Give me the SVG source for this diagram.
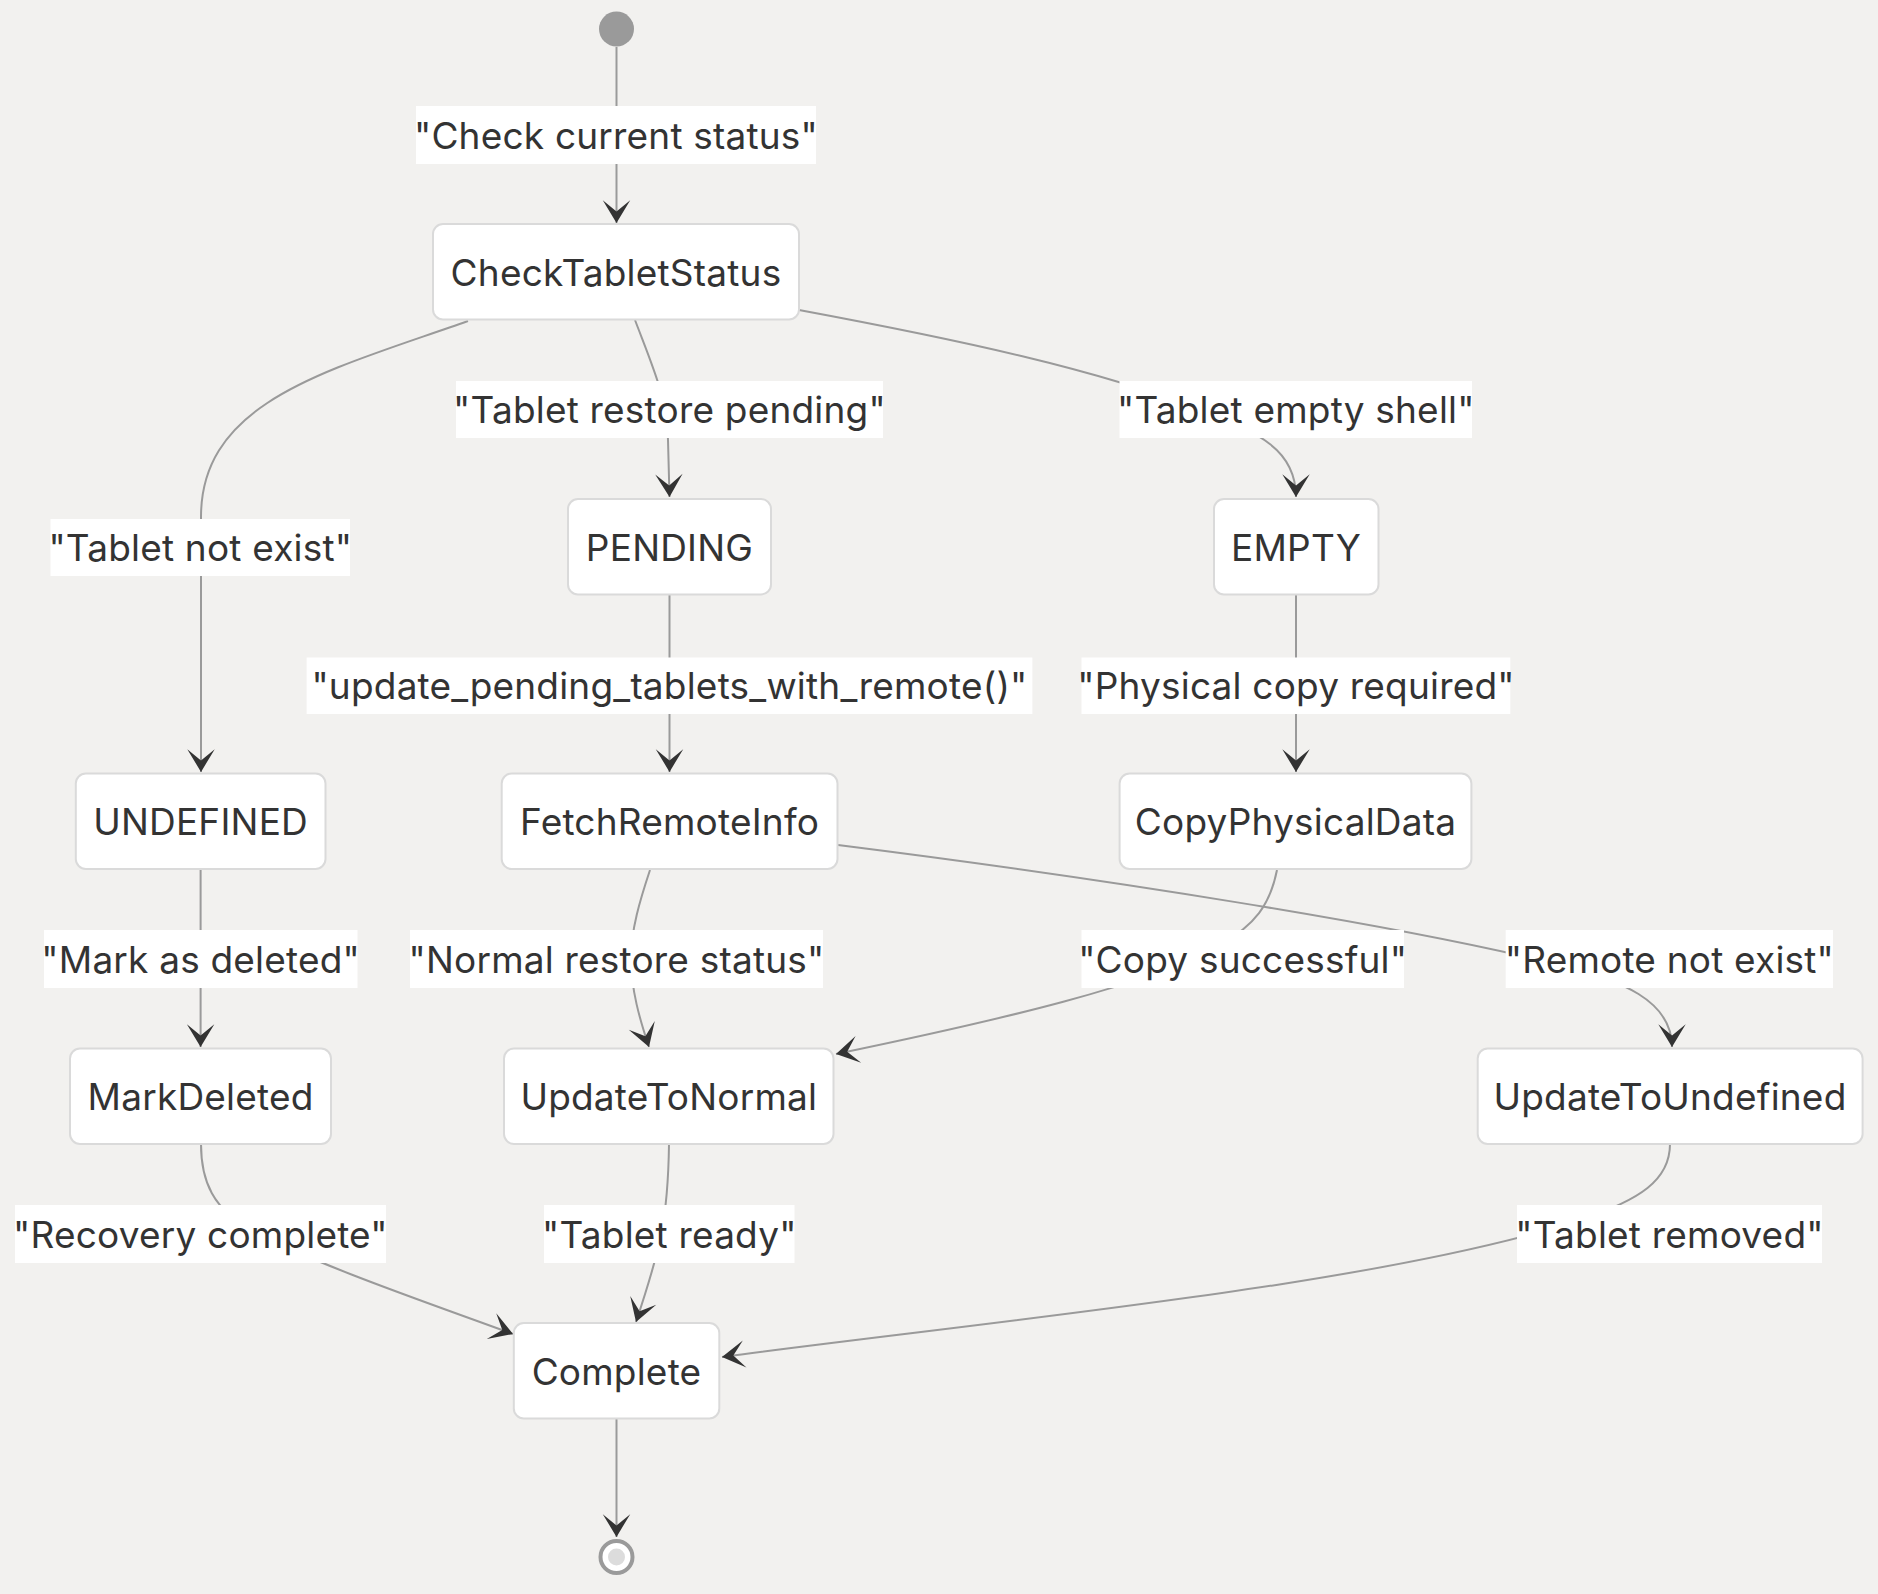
<svg xmlns="http://www.w3.org/2000/svg" width="1878" height="1594" viewBox="0 0 1878 1594">
  <style>
    .bg { fill: #f2f1ef; }
    .node rect { fill: #ffffff; stroke: #dadada; stroke-width: 2; }
    .node text, .label text { font-family: Inter, "Liberation Sans", Arial, sans-serif; font-size: 37px; letter-spacing: 0.2px; fill: #333333; text-anchor: middle; dominant-baseline: central; }
    .edge { fill: none; stroke: #9a9a9a; stroke-width: 2; marker-end: url(#barb); }
    .label rect { fill: #ffffff; }
  </style>
  <defs>
    <marker id="barb" viewBox="0 0 20 14" markerUnits="userSpaceOnUse" markerWidth="46" markerHeight="32" refX="19" refY="7" orient="auto">
      <path d="M19,7 L9,13 L14,7 L9,1 Z" fill="#333333"/>
    </marker>
  </defs>

  <rect class="bg" x="0" y="0" width="1878" height="1594"/>

  <!-- transitions -->
  <g id="connectors">
    <path class="edge" d="M616.5,47 L616.5,223"/>
    <path class="edge" d="M468,321 C330,370 201,400 201,517 L201,772"/>
    <path class="edge" d="M635,320 C652,365 668,400 668,440 L669.5,497"/>
    <path class="edge" d="M799,310 C960,340 1100,370 1200,410 C1260,433 1296,450 1296,497"/>
    <path class="edge" d="M669.5,595 L669.5,772"/>
    <path class="edge" d="M1296,595 L1296,772"/>
    <path class="edge" d="M200.6,869.5 L200.6,1047"/>
    <path class="edge" d="M650,870 C640,900 631,930 631,958 C631,990 640,1020 649,1047"/>
    <path class="edge" d="M1277,870 C1270,905 1255,925 1220,945 C1150,985 1000,1020 836,1054"/>
    <path class="edge" d="M838,845 C1100,878 1400,925 1560,965 C1620,980 1672,1000 1672,1047"/>
    <path class="edge" d="M201,1144 C201,1180 212,1210 255,1232 C320,1266 420,1300 513,1334"/>
    <path class="edge" d="M669,1144 C668,1220 660,1250 636,1322"/>
    <path class="edge" d="M1670,1144 C1670,1180 1640,1200 1580,1220 C1380,1285 1000,1320 722,1357"/>
    <path class="edge" d="M616.5,1419 L616.5,1537"/>
  </g>

  <!-- transition labels -->
  <g id="labels">
    <g class="label"><rect x="416" y="106" width="400" height="58"/><text x="616" y="135">"Check current status"</text></g>
    <g class="label"><rect x="456" y="381" width="427" height="57"/><text x="669.5" y="409.5">"Tablet restore pending"</text></g>
    <g class="label"><rect x="1119.5" y="381" width="352.5" height="57"/><text x="1295.8" y="409.5">"Tablet empty shell"</text></g>
    <g class="label"><rect x="50.5" y="519" width="299.5" height="57"/><text x="200.3" y="547.5">"Tablet not exist"</text></g>
    <g class="label"><rect x="306.6" y="657.5" width="725.8" height="56.5"/><text x="669.5" y="685.7">"update_pending_tablets_with_remote()"</text></g>
    <g class="label"><rect x="1081.5" y="657.5" width="428.8" height="56.5"/><text x="1296" y="685.7">"Physical copy required"</text></g>
    <g class="label"><rect x="44" y="930" width="313.5" height="58"/><text x="200.7" y="959">"Mark as deleted"</text></g>
    <g class="label"><rect x="410" y="930" width="413" height="58"/><text x="616.5" y="959">"Normal restore status"</text></g>
    <g class="label"><rect x="1081.5" y="930" width="322.5" height="58"/><text x="1242.7" y="959">"Copy successful"</text></g>
    <g class="label"><rect x="1505.7" y="930" width="327.3" height="58"/><text x="1669.4" y="959">"Remote not exist"</text></g>
    <g class="label"><rect x="15" y="1205" width="371" height="58"/><text x="200.4" y="1234">"Recovery complete"</text></g>
    <g class="label"><rect x="544" y="1205" width="250.5" height="58"/><text x="669.3" y="1234">"Tablet ready"</text></g>
    <g class="label"><rect x="1517" y="1205" width="305" height="58"/><text x="1669.5" y="1234">"Tablet removed"</text></g>
  </g>

  <!-- states -->
  <g id="start"><circle cx="616.5" cy="29" r="17.5" fill="#9a9a9a"/></g>
  <g id="CheckTabletStatus" class="node"><rect x="433" y="224" width="366" height="95.5" rx="10"/><text x="616" y="272">CheckTabletStatus</text></g>
  <g id="PENDING" class="node"><rect x="568" y="499" width="203" height="95.5" rx="10"/><text x="669.5" y="547">PENDING</text></g>
  <g id="EMPTY" class="node"><rect x="1214" y="499" width="164.5" height="95.5" rx="10"/><text x="1296" y="547">EMPTY</text></g>
  <g id="UNDEFINED" class="node"><rect x="75.8" y="773.5" width="249.7" height="95.5" rx="10"/><text x="200.6" y="821.5">UNDEFINED</text></g>
  <g id="FetchRemoteInfo" class="node"><rect x="501.7" y="773.5" width="335.8" height="95.5" rx="10"/><text x="669.6" y="821.5">FetchRemoteInfo</text></g>
  <g id="CopyPhysicalData" class="node"><rect x="1119.6" y="773.5" width="351.8" height="95.5" rx="10"/><text x="1295.5" y="821.5">CopyPhysicalData</text></g>
  <g id="MarkDeleted" class="node"><rect x="70" y="1048.5" width="261" height="95.5" rx="10"/><text x="200.6" y="1096.5">MarkDeleted</text></g>
  <g id="UpdateToNormal" class="node"><rect x="504" y="1048.5" width="329.5" height="95.5" rx="10"/><text x="668.8" y="1096.5">UpdateToNormal</text></g>
  <g id="UpdateToUndefined" class="node"><rect x="1477.7" y="1048.5" width="384.9" height="95.5" rx="10"/><text x="1670" y="1096.5">UpdateToUndefined</text></g>
  <g id="Complete" class="node"><rect x="513.8" y="1323" width="205.5" height="95.5" rx="10"/><text x="616.5" y="1371">Complete</text></g>
  <g id="end">
    <circle cx="616.5" cy="1557" r="16" fill="#ffffff" stroke="#9a9a9a" stroke-width="4"/>
    <circle cx="616.5" cy="1557" r="8.5" fill="#dcdcdc"/>
  </g>
</svg>
